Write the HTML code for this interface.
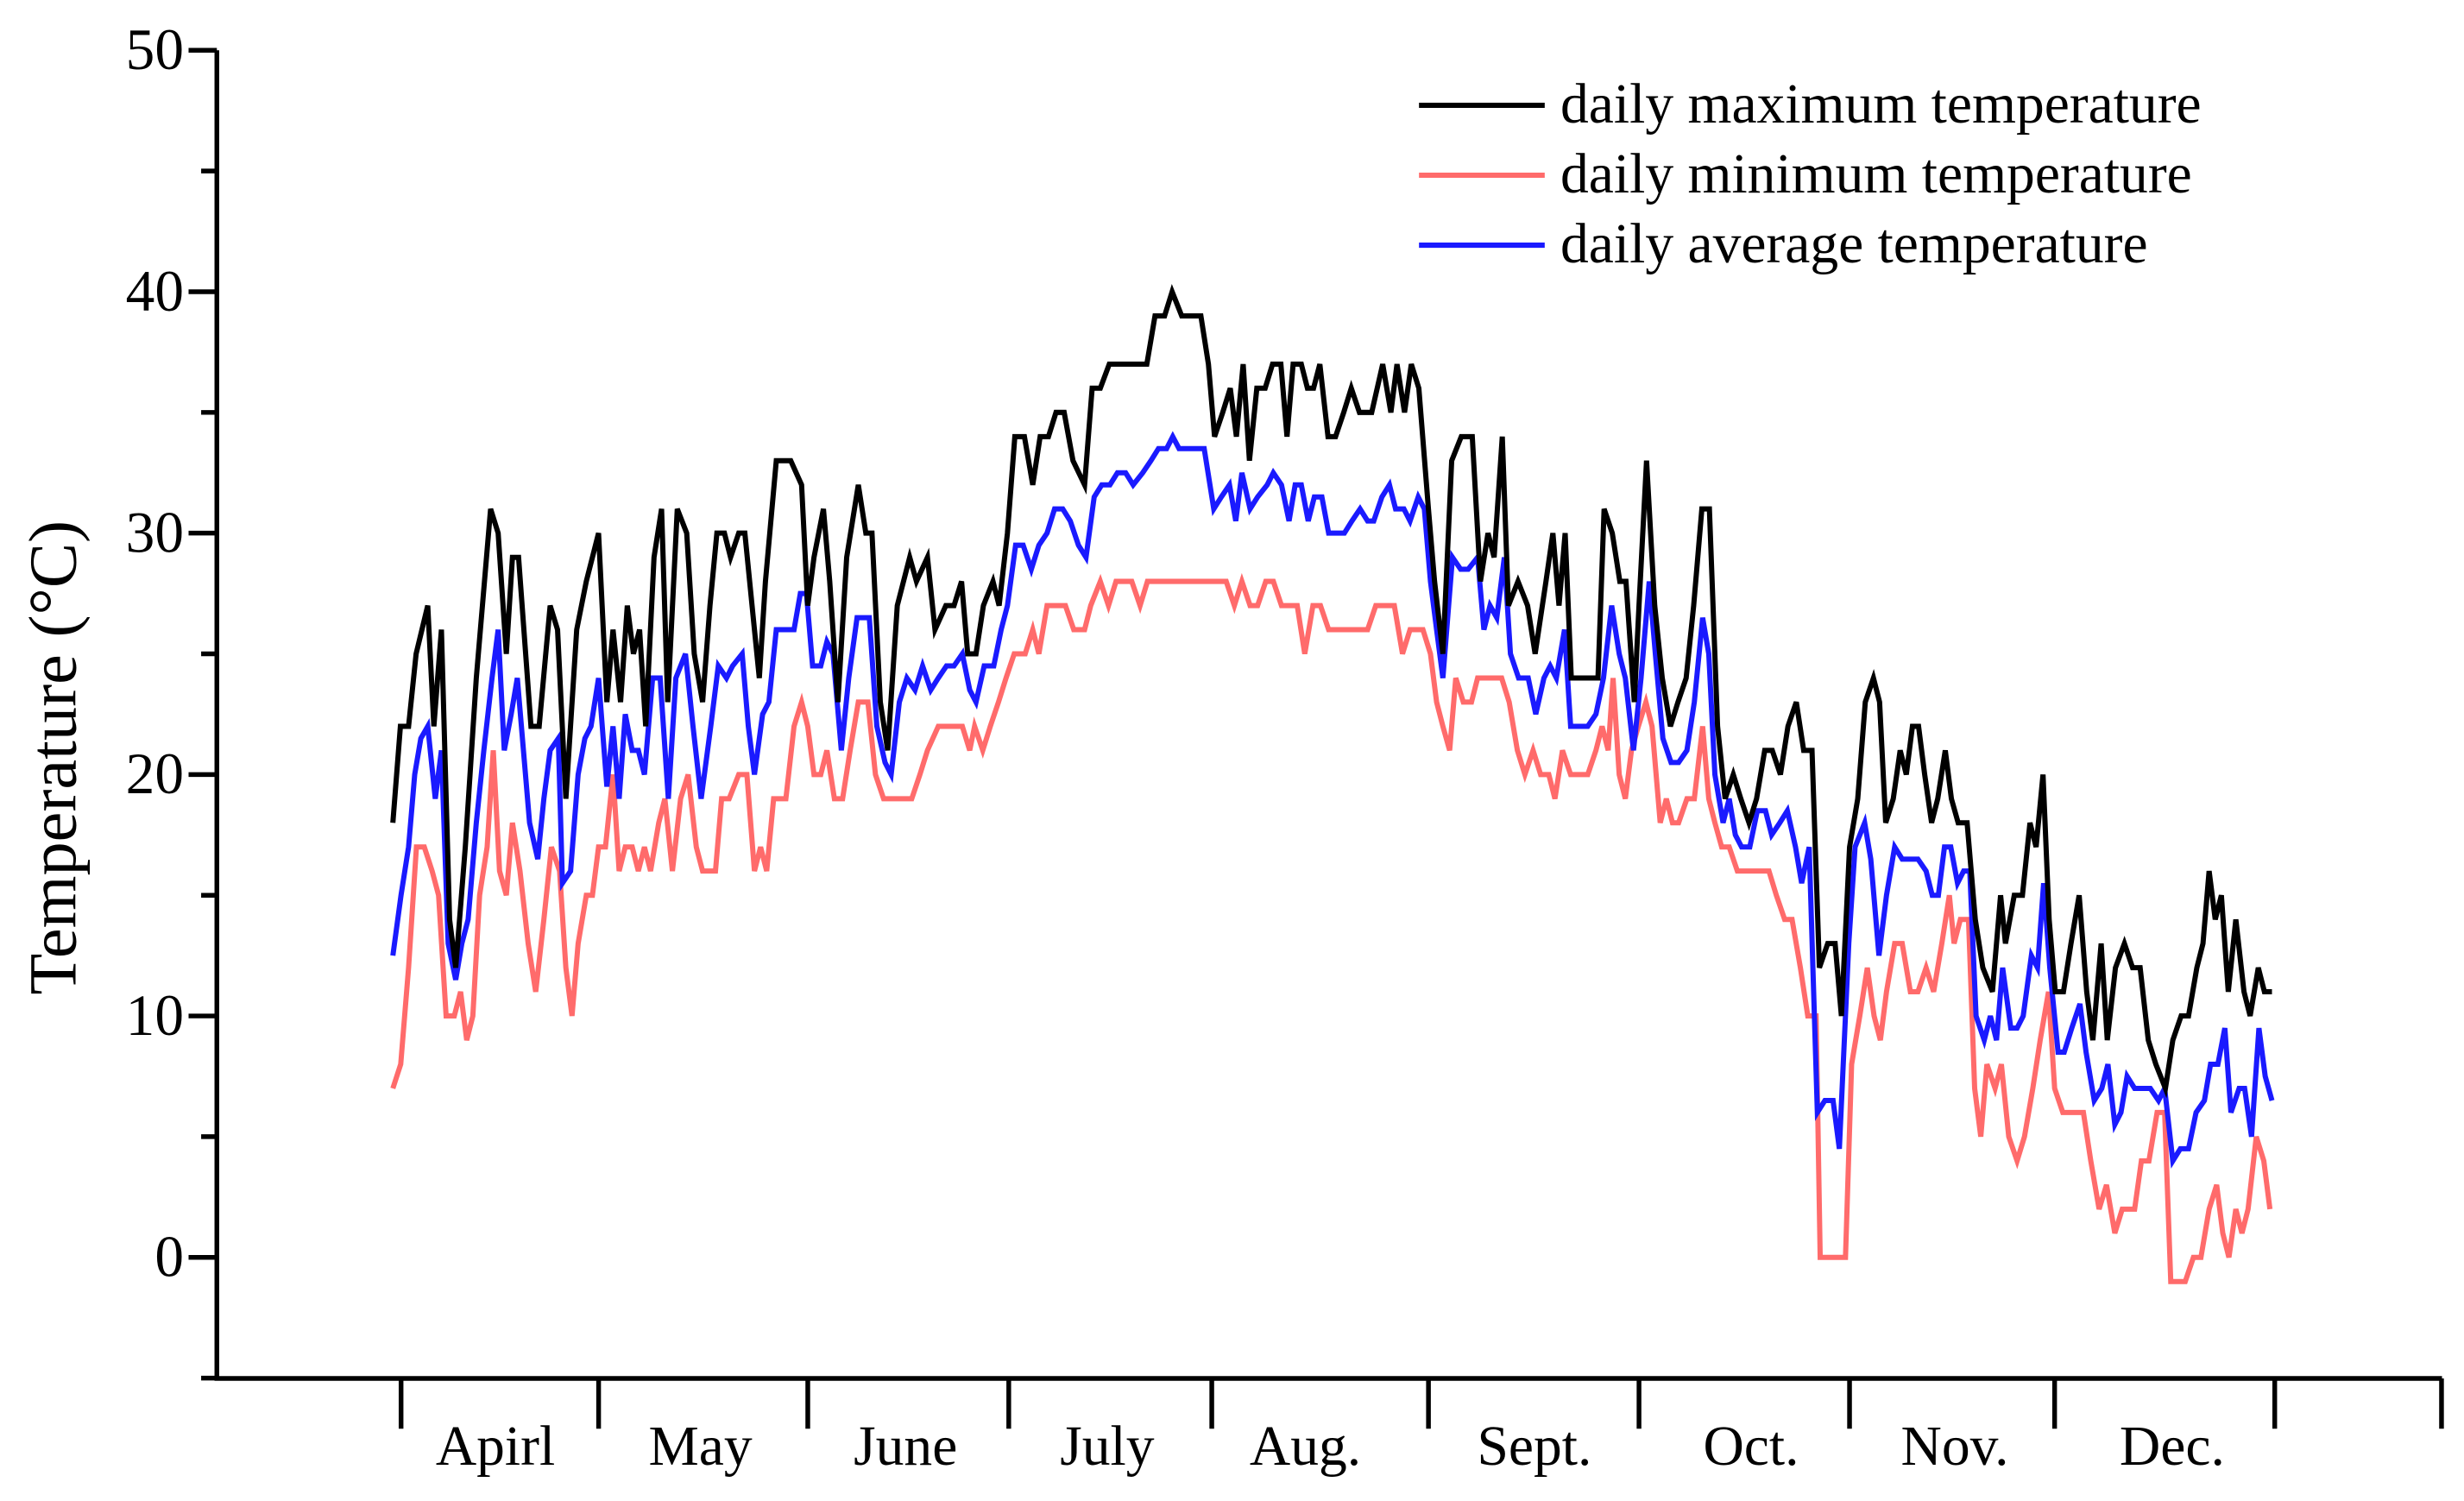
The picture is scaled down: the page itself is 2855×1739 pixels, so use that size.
<!DOCTYPE html>
<html><head><meta charset="utf-8"><style>
html,body{margin:0;padding:0;background:#fff}
svg{display:block}
text{font-family:"Liberation Serif",serif;fill:#000}
</style></head><body>
<svg id="chart" width="2855" height="1739" viewBox="0 0 1568 955" preserveAspectRatio="none" xmlns="http://www.w3.org/2000/svg">
<g id="axes"></g>
<g id="series"></g>
<g id="legend"></g>
</svg>
<script>
const yTicks=[0,10,20,30,40,50];
const yMinor=[-5,5,15,25,35,45];
const monthLabels=["Apirl","May","June","July","Aug.","Sept.","Oct.","Nov.","Dec."];
const monthStartDays=[1.2,30.1,60.7,90.1,119.8,151.5,182.3,213.1,243.1,275.3,299.7];
const monthLabelDays=[15,45,75,104.5,133.5,167,198.7,228.5,260.3];
const seriesNames=["daily maximum temperature","daily minimum temperature","daily average temperature"];

const maxDays=[0,1.1,2.3,3.4,5.1,6.0,7.1,8.3,9.2,10.6,12.2,14.3,15.4,16.6,17.5,18.4,20.2,21.4,23.0,24.1,25.3,26.9,28.3,30.1,31.3,32.2,33.3,34.3,35.2,36.1,37.0,38.2,39.3,40.2,41.6,43.0,44.1,45.3,46.4,47.4,48.5,49.4,50.6,51.5,52.9,53.6,54.5,56.1,58.2,59.8,60.7,61.6,63.0,63.9,65.1,66.4,68.1,69.2,70.1,71.3,72.4,73.8,75.6,76.6,78.2,79.3,80.9,82.1,83.2,84.1,85.3,86.4,87.8,88.7,89.9,91.0,92.4,93.6,94.7,95.9,97.0,98.2,99.5,101.2,102.3,103.5,104.8,106.0,107.1,108.0,110.3,111.5,112.9,114.0,115.4,116.6,118.2,119.3,120.2,121.4,122.5,123.4,124.4,125.3,126.4,127.6,128.7,129.9,130.8,131.7,132.9,133.8,134.7,135.6,136.8,137.9,139.1,140.2,141.4,143.2,144.8,146.0,146.9,148.0,149.0,150.1,151.5,152.4,153.6,154.9,156.3,157.9,159.1,160.2,161.1,162.3,163.2,164.6,166.0,167.1,168.7,169.7,170.6,171.5,172.4,173.6,175.2,176.3,177.2,178.4,179.5,180.4,181.6,182.3,183.4,184.6,185.7,186.9,188.0,189.2,190.3,191.5,192.6,193.8,194.9,196.1,197.2,198.4,199.5,200.7,201.8,203.0,204.1,205.3,206.4,207.6,208.7,209.9,211.0,211.9,213.1,214.3,215.4,216.6,217.5,218.4,219.5,220.5,221.4,222.3,223.2,224.1,225.1,226.0,227.1,228.0,229.0,230.3,231.5,232.6,234.0,235.2,235.9,237.2,238.4,239.5,240.4,241.4,242.3,243.2,244.4,245.5,246.7,247.8,248.7,249.9,250.8,252.0,253.3,254.5,255.6,256.8,257.9,259.3,260.4,261.6,262.7,263.9,264.8,265.7,266.6,267.5,268.5,269.6,270.8,271.7,272.9,273.8,274.9];
const maxVals=[18,22,22,25,27,22,26,14,12,17,24,31,30,25,29,29,22,22,27,26,19,26,28,30,23,26,23,27,25,26,22,29,31,23,31,30,25,23,27,30,30,29,30,30,26,24,28,33,33,32,27,29,31,28,23,29,32,30,30,23,21,27,29,28,29,26,27,27,28,25,25,27,28,27,30,34,34,32,34,34,35,35,33,32,36,36,37,37,37,37,37,39,39,40,39,39,39,37,34,35,36,34,37,33,36,36,37,37,34,37,37,36,36,37,34,34,35,36,35,35,37,35,37,35,37,36,31,28,25,33,34,34,28,30,29,34,27,28,27,25,28,30,27,30,24,24,24,24,31,30,28,28,23,27,33,27,24,22,23,24,27,31,31,22,19,20,19,18,19,21,21,20,22,23,21,21,12,13,13,10,17,19,23,24,23,18,19,21,20,22,22,20,18,19,21,19,18,18,14,12,11,15,13,15,15,18,17,20,14,11,11,13,15,11,9,13,9,12,13,12,12,9,8,7,9,10,10,12,13,16,14,15,11,14,11,10,12,11,11];

const minDays=[0,1.15,2.3,3.45,4.6,5.75,6.7,7.8,9.0,9.9,10.8,11.7,12.7,13.8,14.7,15.6,16.6,17.5,18.6,19.8,20.9,22.1,23.2,24.4,25.3,26.2,27.1,28.3,29.2,30.1,31.1,32.2,33.1,34.0,35.0,35.9,36.8,37.7,38.9,39.8,40.9,42.1,43.2,44.4,45.3,47.2,48.1,49.2,50.6,51.8,52.9,53.8,54.7,55.7,57.5,58.7,59.8,60.7,61.6,62.6,63.5,64.6,65.8,66.9,68.1,69.5,70.6,71.8,73.6,75.9,77.1,78.2,79.8,81.9,83.3,84.4,85.1,86.3,87.4,88.6,89.7,90.9,92.5,93.6,94.5,95.7,97.1,98.4,99.6,101.2,102.1,103.5,104.7,105.8,107.2,108.1,109.3,110.4,112.7,115,117.3,119.6,121.9,123.1,124.2,125.4,126.5,127.7,128.8,130,131.1,132.3,133.4,134.6,135.7,136.9,139.2,141.5,142.6,143.8,144.9,146.5,147.7,148.8,150.7,151.8,152.7,153.6,154.6,155.5,156.6,157.8,158.7,161,162.2,163.3,164.5,165.6,166.8,167.9,169.1,170,171.1,172.3,173.7,174.8,176,176.9,177.8,178.5,179.4,180.3,181.2,182.2,183.3,184.2,185.4,186.3,187.2,188.1,189.3,190.4,191.6,192.5,193.4,194.4,195.5,196.7,199,201.3,202.4,203.6,204.7,205.9,207,208.2,208.8,210.5,212.5,213.4,214.6,215.7,216.7,217.6,218.5,219.7,220.8,222,223.1,224.3,225.4,226.6,227.7,228.4,229.3,230.5,231.4,232.3,233.2,234.4,235.3,236.4,237.6,238.7,239.9,241,242.2,243.1,244.3,246.1,247.3,248.4,249.6,250.7,251.9,253,254.8,255.8,256.9,258.1,259.2,260.1,262.2,263.4,264.5,265.7,266.8,267.7,268.6,269.6,270.5,271.4,272.6,273.7,274.6];
const minVals=[7,8,12,17,17,16,15,10,10,11,9,10,15,17,21,16,15,18,16,13,11,14,17,16,12,10,13,15,15,17,17,20,16,17,17,16,17,16,18,19,16,19,20,17,16,16,19,19,20,20,16,17,16,19,19,22,23,22,20,20,21,19,19,21,23,23,20,19,19,19,20,21,22,22,22,21,22,21,22,23,24,25,25,26,25,27,27,27,26,26,27,28,27,28,28,28,27,28,28,28,28,28,28,27,28,27,27,28,28,27,27,27,25,27,27,26,26,26,26,27,27,27,25,26,26,25,23,22,21,24,23,23,24,24,24,23,21,20,21,20,20,19,21,20,20,20,21,22,21,24,20,19,21,22,23,22,18,19,18,18,19,19,22,19,18,17,17,16,16,16,15,14,14,12,10,10,0,0,0,8,10,12,10,9,11,13,13,11,11,12,11,13,15,13,14,14,7,5,8,7,8,5,4,5,7,9,11,7,6,6,6,4,2,3,1,2,2,4,4,6,6,-1,-1,0,0,2,3,1,0,2,1,2,5,4,2];

const avgDays=[0,1.2,2.3,3.2,4.1,5.1,6.2,7.1,8.1,9.2,10.1,11,12.2,13.3,14.5,15.4,16.3,17.3,18.2,19.1,20,21.2,22.1,23,24.2,24.8,26,27.1,28.1,29,30.1,31.3,32.2,33.1,34,35,35.9,36.8,38,39.1,40.3,41.4,42.8,43.9,45.1,46.5,47.6,48.8,49.7,51.1,52,52.9,54.1,55,56.1,57.5,58.7,59.6,60.5,61.4,62.6,63.5,64.4,65.6,66.7,67.9,68.8,69.7,70.8,72,72.9,74.1,75.2,76.4,77.5,78.7,79.8,81,82.1,83.3,84.4,85.3,86.5,87.9,89,89.9,91.1,92.2,93.4,94.5,95.7,96.8,98,99.1,100.3,101.4,102.6,103.7,104.9,106,107.2,108.3,109.7,110.9,112,113.2,114.1,115,116.4,117.8,118.7,120.1,121.2,122.4,123.3,124.2,125.4,126.5,127.9,128.8,130,131.1,132,132.9,133.9,134.8,135.9,136.9,138,139.2,140.3,141.5,142.6,143.5,144.7,145.8,146.7,147.9,148.8,150,150.9,151.8,152.7,153.6,155,156.2,157.3,158.7,159.6,160.5,161.5,162.6,163.5,164.7,166.1,167.2,168.4,169.3,170.2,171.4,172.3,173.7,174.8,176,177.1,178.3,179.4,180.3,181.5,182.6,183.8,184.7,185.8,187,188.1,189.3,190.4,191.6,192.5,193.4,194.6,195.5,196.4,197.3,198.5,199.6,200.8,201.7,202.9,204,205.2,206.1,207.2,208.4,209.5,210.7,211.6,213,213.9,215.3,216.2,217.4,218.5,219.7,220.8,222,223.1,224.3,225.2,226.1,227,227.9,228.9,229.8,230.7,231.6,232.8,233.7,234.6,235.5,236.7,237.6,238.5,239.7,240.6,241.5,242.4,243.6,244.5,245.6,246.8,247.7,248.9,250,250.9,251.9,252.8,253.7,254.8,256,257.1,258.3,259.2,260.4,261.5,262.7,263.8,265,265.9,267,268,268.9,270.1,270.9,271.9,273,273.9,274.9];
const avgVals=[12.5,15,17,20,21.5,22,19,21,13,11.5,13,14,18,21,24,26,21,22.5,24,21,18,16.5,19,21,21.5,15.5,16,20,21.5,22,24,19.5,22,19,22.5,21,21,20,24,24,19,24,25,22,19,22,24.5,24,24.5,25,22,20,22.5,23,26,26,26,27.5,27.5,24.5,24.5,25.5,25,21,24,26.5,26.5,26.5,22,20.5,20,23,24,23.5,24.5,23.5,24,24.5,24.5,25,23.5,23,24.5,24.5,26,27,29.5,29.5,28.5,29.5,30,31,31,30.5,29.5,29,31.5,32,32,32.5,32.5,32,32.5,33,33.5,33.5,34,33.5,33.5,33.5,33.5,31,31.5,32,30.5,32.5,31,31.5,32,32.5,32,30.5,32,32,30.5,31.5,31.5,30,30,30,30.5,31,30.5,30.5,31.5,32,31,31,30.5,31.5,31,28,26,24,29,28.5,28.5,29,26,27,26.5,29,25,24,24,22.5,24,24.5,24,26,22,22,22,22.5,24,27,25,24,21,24,28,25,21.5,20.5,20.5,21,23,26.5,25,20,18,19,17.5,17,17,18.5,18.5,17.5,18,18.5,17,15.5,17,6,6.5,6.5,4.5,13,17,18,16.5,12.5,15,17,16.5,16.5,16.5,16,15,15,17,17,15.5,16,16,10,9,10,9,12,9.5,9.5,10,12.5,12,15.5,12,8.5,8.5,9.5,10.5,8.5,6.5,7,8,5.5,6,7.5,7,7,7,6.5,7,4,4.5,4.5,6,6.5,8,8,9.5,6,7,7,5,9.5,7.5,6.5];

const NS="http://www.w3.org/2000/svg";
const X0=250, PXDAY=4.35, Y0=800, PXDEG=15.36;
function xs(d){return X0+d*PXDAY;}
function ys(v){return Y0-v*PXDEG;}
function mk(tag,attrs,parent){const e=document.createElementNS(NS,tag);for(const k in attrs)e.setAttribute(k,attrs[k]);parent.appendChild(e);return e;}
const axes=document.getElementById('axes');
let el;
el=mk('line',{x1:138,y1:32,x2:138,y2:877,stroke:'#000','stroke-width':3},axes);


el=mk('line',{x1:136.5,y1:877,x2:1554,y2:877,stroke:'#000','stroke-width':3},axes);


yTicks.forEach(v=>{
  el=mk('line',{x1:120,y1:ys(v),x2:138,y2:ys(v),stroke:'#000','stroke-width':3},axes);
  
  
  el=mk('text',{x:117,y:ys(v)+12,'text-anchor':'end','font-size':37},axes);
  el.textContent=v;
  
  
});
yMinor.forEach(v=>{
  el=mk('line',{x1:128,y1:ys(v),x2:138,y2:ys(v),stroke:'#000','stroke-width':3},axes);
  
  
});
monthStartDays.forEach(d=>{
  el=mk('line',{x1:xs(d),y1:877,x2:xs(d),y2:909,stroke:'#000','stroke-width':3},axes);
  
  
});
monthLabels.forEach((m,i)=>{
  el=mk('text',{x:xs(monthLabelDays[i]),y:932,'text-anchor':'middle','font-size':36},axes);
  el.textContent=m;
  
  
});
el=mk('text',{x:0,y:0,'text-anchor':'middle','font-size':43,transform:'translate(48,482) rotate(-90)'},axes);
el.textContent='Temperature (°C)';



const ser=document.getElementById('series');
const colors=['#000000','#ff6b6b','#1a1aff'];
const dayArrs=[maxDays,minDays,avgDays], valArrs=[maxVals,minVals,avgVals];
const names=['series-max-temperature','series-min-temperature','series-avg-temperature'];
[1,2,0].forEach(i=>{
  const pts=dayArrs[i].map((d,j)=>xs(d).toFixed(1)+','+ys(valArrs[i][j]).toFixed(1)).join(' ');
  el=mk('polyline',{points:pts,fill:'none',stroke:colors[i],'stroke-width':3.3,'stroke-linejoin':'miter'},ser);
  
  
});
const leg=document.getElementById('legend');
seriesNames.forEach((n,i)=>{
  const y=67+i*44.5;
  el=mk('line',{x1:903,y1:y,x2:983,y2:y,stroke:colors[i],'stroke-width':3.3},leg);
  
  
  el=mk('text',{x:993,y:y+11,'font-size':36},leg);
  el.textContent=n;
  
  
});
</script>
</body></html>
